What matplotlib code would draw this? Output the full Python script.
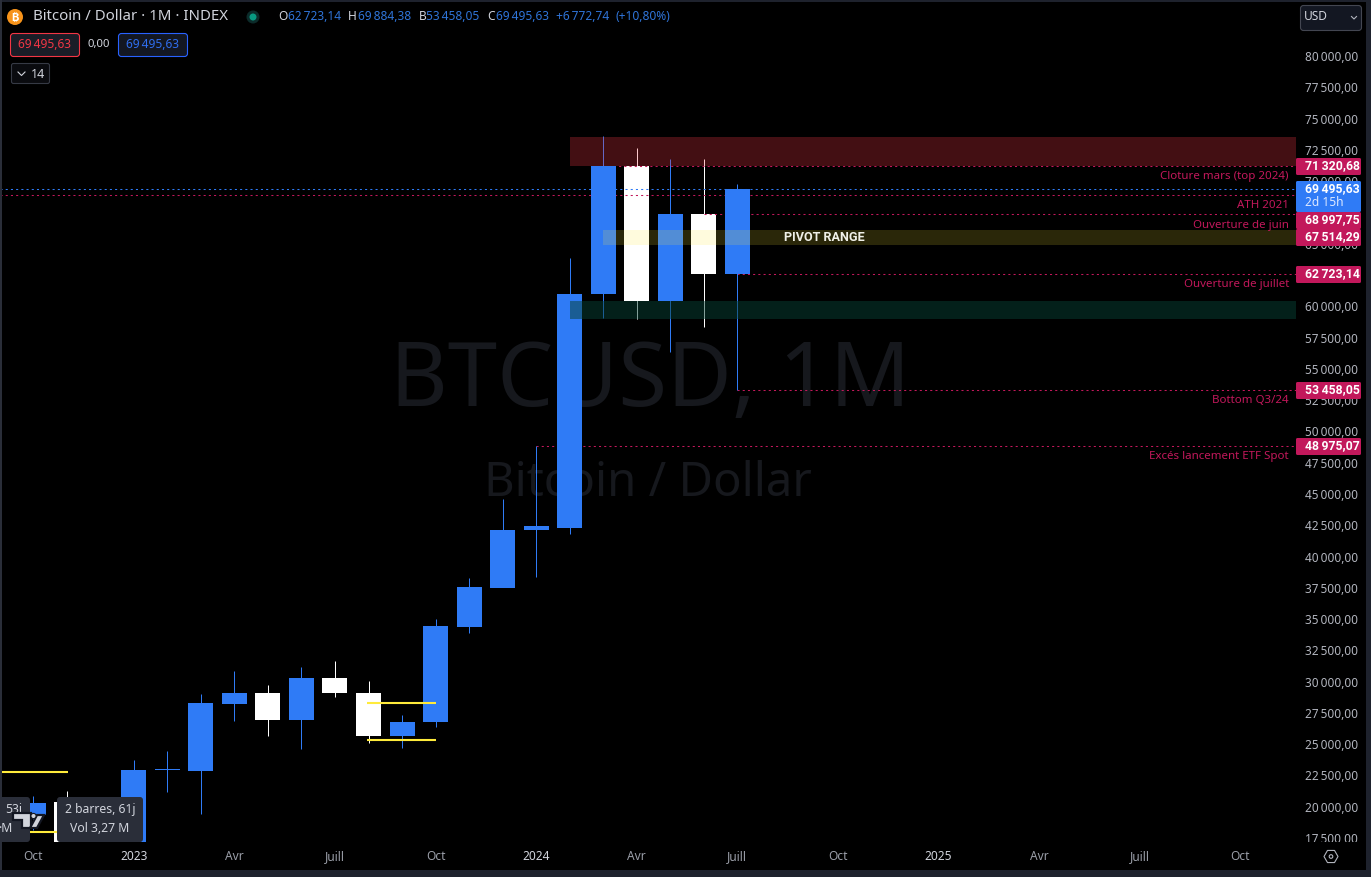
import matplotlib
matplotlib.use("Agg")
import matplotlib.pyplot as plt
from matplotlib.patches import Circle, FancyBboxPatch, Polygon, Rectangle, RegularPolygon
from matplotlib.transforms import ScaledTranslation

plt.rcParams["font.family"] = ["Noto Sans", "DejaVu Sans"]

BG = "#000000"
BAND = "#1e222d"
BLUE = "#2f7bf6"
PINK = "#c2185b"
TXT = "#b2b5be"
HEAD = "#d1d4dc"
OHLC = "#2f74d8"
YELLOW = "#ffeb3b"

# bougies mensuelles, oct 2022 -> juill 2024
months = list(range(22))
opens = [19480, 20530, 17230, 16630, 23060, 23015, 28370, 29250, 27090, 30450, 29250, 25810,
         26930, 34530, 37640, 42280, 42440, 61140, 71320.68, 60580, 67514.29, 62723.14]
closes = [20480, 16580, 16630, 23100, 23180, 28450, 29250, 27090, 30450, 29250, 25810, 26930,
          34610, 37720, 42280, 42600, 61140, 71320.68, 60580, 67514.29, 62723.14, 69495.63]
highs = [21020, 21420, 18380, 23895, 24614, 29170, 31010, 29890, 31330, 31810, 30210, 27490,
         35165, 38440, 44760, 48975.07, 64020, 73770, 72810, 71930, 71930, 69884.38]
lows = [18280, 15680, 16380, 16580, 21340, 19580, 27010, 25810, 24780, 28930, 25250, 24860,
        26530, 34050, 37680, 38520, 41960, 59220, 59140, 56500, 58500, 53458.05]

y_ticks = list(range(17500, 80001, 2500))
x_ticks = [0, 3, 6, 9, 12, 15, 18, 21, 24, 27, 30, 33, 36]
x_labels = ["Oct", "2023", "Avr", "Juill", "Oct", "2024", "Avr", "Juill", "Oct", "2025", "Avr", "Juill", "Oct"]

# niveaux horizontaux (mois de depart, prix)
level_starts = [17, -1, 20, 21, 21, 15]
level_prices = [71320.68, 68997.75, 67514.29, 62723.14, 53458.05, 48975.07]
last_price = 69495.63

# segments jaunes (debut, fin, prix)
seg_starts = [-1, -1, 9.95, 9.95]
seg_ends = [1.03, 1.03, 12.0, 12.0]
seg_prices = [22940, 18140, 28450, 25490]

# zones (debut, bas, haut)
zone_starts = [16, 17, 16]
zone_lows = [71320, 65050, 59140]
zone_highs = [73680, 66250, 60580]
zone_colors = ["#f23645", "#ffeb3b", "#064034"]
zone_alphas = [0.28, 0.17, 0.5]


def fmt(v):
    s = f"{v:,.2f}".replace(",", "\u2009").replace(".", ",")
    return s


W, H = 1371, 877
fig = plt.figure(figsize=(W / 100, H / 100), dpi=100, facecolor=BG)

PX_L, PX_R, PX_T, PX_B = 2, 1296, 2, 842
ax = fig.add_axes([PX_L / W, 1 - PX_B / H, (PX_R - PX_L) / W, (PX_B - PX_T) / H], facecolor=BG)
STEP = 33.52
X0 = 33.3
ax.set_xlim((PX_L - X0) / STEP, (PX_R - X0) / STEP)
PPX = 79.92  # dollars par pixel
Y80K = 57.8
ax.set_ylim(80000 - (PX_B - Y80K) * PPX, 80000 - (PX_T - Y80K) * PPX)
for sp in ax.spines.values():
    sp.set_visible(False)

ax.yaxis.tick_right()
ax.set_yticks(y_ticks)
ax.set_yticklabels([fmt(v) for v in y_ticks], fontsize=8.5, color=TXT)
ax.tick_params(axis="y", length=0, pad=6.5)
up_labels = ScaledTranslation(0, 1.8 / 100, fig.dpi_scale_trans)
for lab in ax.get_yticklabels():
    lab.set_transform(lab.get_transform() + up_labels)
ax.set_xticks(x_ticks)
ax.set_xticklabels(x_labels, fontsize=8.6, color="#9a9ea8")
ax.tick_params(axis="x", length=0, pad=6)
for lab, name in zip(ax.get_xticklabels(), x_labels):
    if name.isdigit():
        lab.set_color(HEAD)

# filigrane
ax.text(0.5008, 0.5464, "BTCUSD, 1M", transform=ax.transAxes, ha="center", va="center",
        fontsize=64, color="#16181d", zorder=1)
ax.text(0.4995, 0.4273, "Bitcoin / Dollar", transform=ax.transAxes, ha="center", va="center",
        fontsize=34, color="#16181d", zorder=1)

# bougies : blanches sous les niveaux, bleues dessus
for m, o, c, h, lo in zip(months, opens, closes, highs, lows):
    up = c >= o
    col = BLUE if up else "#ffffff"
    z = 5 if up else 2
    wick = ax.vlines(m, lo, h, color=col, lw=0.72, zorder=z)
    wick.set_snap(True)
    ax.bar(m, abs(c - o), bottom=min(o, c), width=0.746, color=col, linewidth=0, zorder=z)

right = ax.get_xlim()[1]
last = ax.hlines(last_price, -1, right, color=BLUE, lw=0.75, ls=(0, (2, 3)), zorder=3)
last.set_snap(True)
for s, p in zip(level_starts, level_prices):
    lvl = ax.hlines(p, s, right, color=PINK, lw=0.75, ls=(0, (2, 3)), zorder=3)
    lvl.set_snap(True)

for s, e, p in zip(seg_starts, seg_ends, seg_prices):
    ax.hlines(p, s, e, color=YELLOW, lw=1.5, zorder=6)

for s, lo, hi, col, al in zip(zone_starts, zone_lows, zone_highs, zone_colors, zone_alphas):
    ax.add_patch(Rectangle((s, lo), right - s, hi - lo, facecolor=col, alpha=al, linewidth=0, zorder=7))

ax.text(23.61, 65650, "PIVOT RANGE", ha="center", va="center", fontsize=9.1,
        fontweight="bold", family=["Roboto", "DejaVu Sans"], color="#f0f0e8", zorder=8)

# interface, en pixels
ui = fig.add_axes([0, 0, 1, 1], facecolor="none", zorder=10)
ui.set_xlim(0, W)
ui.set_ylim(H, 0)
ui.axis("off")


def rect(x0, y0, x1, y1, col, z=1):
    ui.add_patch(Rectangle((x0, y0), x1 - x0, y1 - y0, facecolor=col, linewidth=0, zorder=z))


def rbox(x0, y0, x1, y1, face, edge="none", r=2, lw=0.8, z=2):
    ui.add_patch(FancyBboxPatch((x0 + r, y0 + r), x1 - x0 - 2 * r, y1 - y0 - 2 * r,
                                boxstyle=f"round,pad={r},rounding_size={r}",
                                facecolor=face, edgecolor=edge, linewidth=lw, zorder=z))


def label(x, y, s, col=HEAD, size=8.6, ha="left", **kw):
    ui.text(x, y, s, color=col, fontsize=size, ha=ha, va="center", zorder=6, **kw)


# bords
rect(0, 0, W, 2, BAND)
rect(0, 0, 2, H, "#2a2e39")
rect(0, 870, W, H, BAND)
rect(1366, 0, W, H, BAND)
rect(1296, 842, 1366, 870, BG)

# entete
ui.add_patch(Circle((15, 17), 8, facecolor="#f7931a", linewidth=0, zorder=3))
label(15, 17, "\u20bf", col="#ffffff", size=8, ha="center", fontweight="bold",
      family=["Inter", "Roboto", "Lato", "Open Sans", "Noto Sans", "Liberation Sans", "DejaVu Sans"])
label(33, 17, "Bitcoin / Dollar \u00b7 1M \u00b7 INDEX", size=10.8, col=HEAD)
ui.add_patch(Circle((253, 17), 6.5, facecolor="#0c2b2a", linewidth=0, zorder=3))
ui.add_patch(Circle((253, 17), 3.5, facecolor="#089981", linewidth=0, zorder=4))
for x, s in [(278, "O"), (348, "H"), (419, "B"), (487, "C")]:
    label(x, 17, s, col=HEAD, size=8.6)
for x, s in [(288, "62\u2009723,14"), (358, "69\u2009884,38"), (426, "53\u2009458,05"),
             (496, "69\u2009495,63"), (556, "+6\u2009772,74"), (615, "(+10,80%)")]:
    label(x, 17, s, col=OHLC, size=8.6)

rbox(10.5, 33.5, 79.5, 56.5, "#1a1d27", "#f23645", r=3)
label(45, 45, "69\u2009495,63", col="#f23645", ha="center")
label(88, 45, "0,00", col=HEAD, size=8.2)
rbox(118.5, 33.5, 187.5, 56.5, "#131722", "#2962ff", r=3)
label(153, 45, "69\u2009495,63", col="#2f6ef0", ha="center")
rbox(11.5, 63.5, 49.5, 83.5, "#0a0b0f", "#363a45", r=2)
ui.plot([18, 21.5, 25], [72, 75.5, 72], color=HEAD, lw=0.8, zorder=6)
label(31, 74, "14", size=9, col=HEAD)

rbox(1300.5, 5.5, 1361.5, 30.5, "#131722", "#434651", r=3)
label(1304, 17, "USD", col=HEAD, size=8.6)
ui.plot([1351.5, 1354, 1356.5], [16.5, 19, 16.5], color=TXT, lw=0.8, zorder=6)

# annotations
notes = [(176.5, "Cloture mars (top 2024)"), (205.5, "ATH 2021"), (225.5, "Ouverture de juin"),
         (284.5, "Ouverture de juillet"), (400.5, "Bottom Q3/24"), (456.5, "Excés lancement ETF Spot")]
for y, s in notes:
    label(1289, y, s, col=PINK, size=8.3, ha="right")

# etiquettes de prix
bold = ["Roboto", "DejaVu Sans"]
boxes = [(158, 175, "71\u2009320,68"), (212, 229, "68\u2009997,75"), (229, 246, "67\u2009514,29"),
         (266, 283, "62\u2009723,14"), (382, 399, "53\u2009458,05"), (438, 455, "48\u2009975,07")]
for y0, y1, s in boxes:
    rbox(1296, y0, 1361, y1, PINK, r=1.5, lw=0)
    label(1305, (y0 + y1) / 2 - 0.5, s, col="#ffffff", size=8.8, fontweight="bold", family=bold)
rbox(1296, 181, 1361, 212, BLUE, r=1.5, lw=0, z=3)
label(1305, 188.5, "69\u2009495,63", col="#ffffff", size=8.8, fontweight="bold", family=bold)
label(1305, 202.5, "2d 15h", col="#dce8ff", size=8.6)

# info-bulles
rbox(-6, 797, 30, 842, "#2a2e39", r=3, lw=0)
label(22, 809, "53j", ha="right", size=8.8)
label(12, 829, "\u00b7M", ha="right", size=8.8)
rbox(57, 797, 143, 842, "#2a2e39", r=3, lw=0)
label(100, 809, "2 barres, 61j", ha="center", size=8.8)
label(100, 829, "Vol 3,27 M", ha="center", size=8.8)

# logo
logo_dark = "#131722"
logo = "#d1d4dc"
t_shape = [(13, 813), (31, 813), (31, 828), (22, 828), (22, 820), (13, 820)]
slash = [(37, 815), (44, 815), (37, 828), (30, 828)]
ui.add_patch(Polygon(t_shape, closed=True, facecolor=logo, edgecolor=logo_dark, lw=1.6, zorder=7))
ui.add_patch(Polygon(slash, closed=True, facecolor=logo, edgecolor=logo_dark, lw=1.6, zorder=7))
ui.add_patch(Circle((33.5, 816), 2.6, facecolor=logo, edgecolor=logo_dark, lw=0.8, zorder=7))

# reglages
ui.add_patch(RegularPolygon((1331, 856.5), 6, radius=7, orientation=3.14159 / 2,
                            facecolor="none", edgecolor=TXT, lw=0.8, zorder=7))
ui.add_patch(Circle((1331, 856.5), 1.8, facecolor="none", edgecolor=TXT, lw=0.8, zorder=7))

fig.savefig("out.png", dpi=100, facecolor=BG)
plt.close(fig)
